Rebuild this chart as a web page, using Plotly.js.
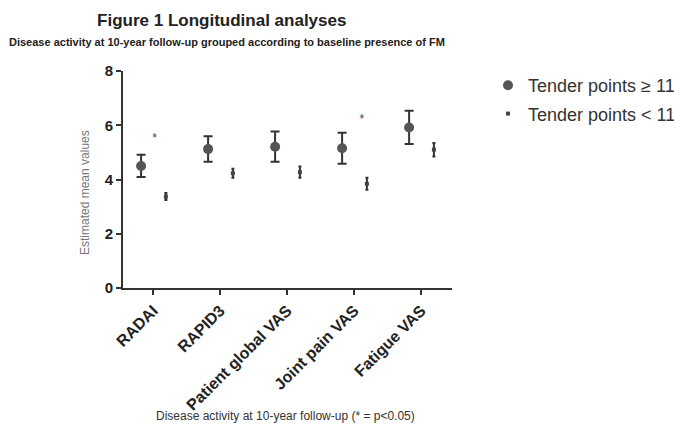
<!DOCTYPE html>
<html>
<head>
<meta charset="utf-8">
<script src="https://cdn.plot.ly/plotly-3.0.1.min.js"></script>
<style>html,body{margin:0;padding:0;background:#fff;}#chart{width:674px;height:425px;}</style>
</head>
<body>
<div id="chart"></div>
<script>
// ---- data ----
const categories = ['RADAI', 'RAPID3', 'Patient global VAS', 'Joint pain VAS', 'Fatigue VAS'];
const fmMean   = [4.50, 5.12, 5.21, 5.15, 5.92];   // Tender points >= 11
const fmErr    = [0.41, 0.47, 0.56, 0.57, 0.61];
const noFmMean = [3.37, 4.23, 4.27, 3.84, 5.10];   // Tender points < 11
const noFmErr  = [0.13, 0.17, 0.21, 0.22, 0.25];
const sigCategories = ['RADAI', 'Joint pain VAS']; // p<0.05
const sigHeights    = [5.5, 6.2];

const FONT = 'Liberation Sans, Arial, sans-serif';
const idx = categories.map((c, i) => i);
const sigShift = [0.02, 0.115];

const traces = [
  {
    type: 'scatter', mode: 'markers', name: 'Tender points \u2265 11',
    legendgroup: 'a',
    x: idx.map(i => i - 0.18), y: fmMean,
    error_y: {type: 'data', array: fmErr, visible: true, color: '#333', thickness: 2, width: 4.5},
    marker: {symbol: 'circle', size: 10, color: '#555'},
    hoverinfo: 'y'
  },
  {
    type: 'scatter', mode: 'markers', name: 'Tender points < 11',
    legendgroup: 'b',
    x: idx.map(i => i + 0.19), y: noFmMean,
    error_y: {type: 'data', array: noFmErr, visible: true, color: '#333', thickness: 2, width: 1.5},
    marker: {symbol: 'square', size: 4, color: '#444'},
    hoverinfo: 'y'
  },
  {
    type: 'scatter', mode: 'text', showlegend: false,
    x: sigCategories.map((c, k) => categories.indexOf(c) + sigShift[k]),
    y: sigHeights,
    text: sigCategories.map(() => '*'),
    textposition: 'middle center',
    textfont: {family: FONT, size: 12, color: '#444'},
    hoverinfo: 'skip'
  }
];

const layout = {
  width: 674, height: 425,
  margin: {l: 123, r: 222, t: 71, b: 137},
  paper_bgcolor: '#fff', plot_bgcolor: '#fff',
  showlegend: true,
  legend: {
    xref: 'container', yref: 'container',
    x: 488 / 674, xanchor: 'left', y: 1 - 67 / 425, yanchor: 'top',
    font: {family: FONT, size: 18, color: '#333'},
    tracegroupgap: 2, bgcolor: 'rgba(0,0,0,0)'
  },
  title: {
    text: 'Figure 1 Longitudinal analyses',
    x: 0.329, xref: 'container', xanchor: 'center',
    y: 1 - 20 / 425, yref: 'container', yanchor: 'middle',
    font: {family: FONT, size: 17, weight: 'bold', color: '#222'}
  },
  xaxis: {
    range: [-0.45, 4.46], automargin: false,
    tickvals: idx, ticktext: categories,
    tickangle: -45,
    showline: true, linecolor: '#333', linewidth: 2,
    ticks: 'outside', ticklen: 5, tickwidth: 2, tickcolor: '#333',
    showgrid: false, zeroline: false,
    tickfont: {family: FONT, size: 16, weight: 'bold', color: '#222'}
  },
  yaxis: {
    range: [0, 8], tickvals: [0, 2, 4, 6, 8], automargin: false,
    showline: true, linecolor: '#333', linewidth: 2,
    ticks: 'outside', ticklen: 5, tickwidth: 2, tickcolor: '#333',
    showgrid: false, zeroline: false,
    tickfont: {family: FONT, size: 15, weight: 'bold', color: '#222'}
  },
  annotations: [
    {
      text: 'Disease activity at 10-year follow-up grouped according to baseline presence of FM',
      xref: 'paper', yref: 'paper', x: (7 - 123) / 329, y: (288 - 42) / 217,
      xanchor: 'left', yanchor: 'middle', showarrow: false,
      font: {family: FONT, size: 11, weight: 'bold', color: '#222'}
    },
    {
      text: 'Estimated mean values', textangle: -90,
      xref: 'paper', yref: 'paper', x: (85 - 123) / 329, y: (288 - 193) / 217,
      xanchor: 'center', yanchor: 'middle', showarrow: false,
      font: {family: FONT, size: 12, color: '#777'}
    },
    {
      text: 'Disease activity at 10-year follow-up (* = p<0.05)',
      xref: 'paper', yref: 'paper', x: (285 - 123) / 329, y: (288 - 416) / 217,
      xanchor: 'center', yanchor: 'middle', showarrow: false,
      font: {family: FONT, size: 12, color: '#333'}
    }
  ]
};

Plotly.newPlot('chart', traces, layout, {displayModeBar: false, staticPlot: true});
</script>
</body>
</html>
